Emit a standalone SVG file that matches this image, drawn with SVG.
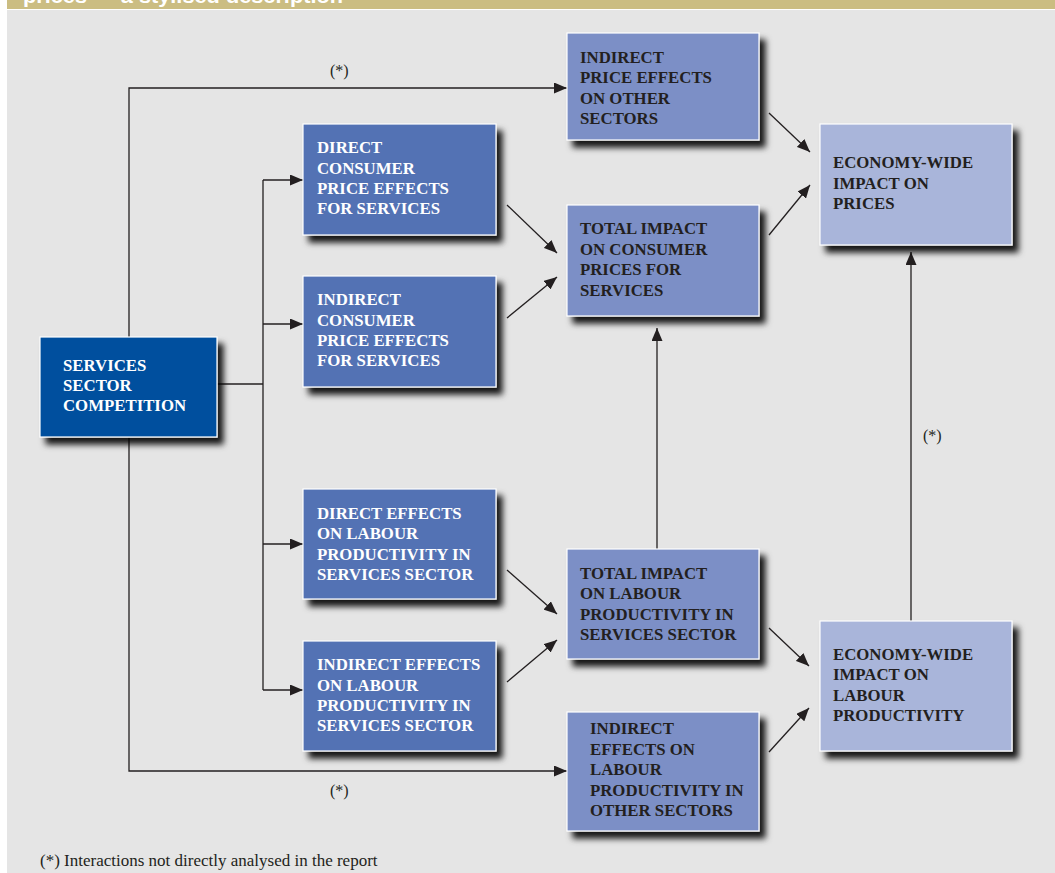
<svg xmlns="http://www.w3.org/2000/svg" width="1055" height="873" viewBox="0 0 1055 873">
<defs>
<style>
.n text{font-family:"Liberation Serif","Times New Roman",serif;font-weight:bold;font-size:16.8px}
.d rect{fill:#00509e}
.m rect{fill:#5272b4}
.l rect{fill:#7b8fc6}
.p rect{fill:#a9b5da}
.n rect{stroke:#ffffff;stroke-width:1.2;filter:url(#sh)}
.d text,.m text{fill:#ffffff}
.l text,.p text{fill:#231f20}
.c line,.c polyline{stroke:#231f20;stroke-width:1.3;fill:none}
.c .a{marker-end:url(#ah)}
.lab{font-family:"Liberation Serif","Times New Roman",serif;font-size:16px;fill:#231f20}
</style>
<filter id="sh" x="-10%" y="-10%" width="130%" height="130%">
<feDropShadow dx="6" dy="7" stdDeviation="3" flood-color="#000" flood-opacity="0.9"/>
</filter>
<marker id="ah" viewBox="0 0 13 11" refX="13" refY="5.5" markerWidth="13" markerHeight="11" markerUnits="userSpaceOnUse" orient="auto">
<path d="M0,0 L13,5.5 L0,11 z" fill="#231f20"/>
</marker>
<clipPath id="hc"><rect x="7" y="0" width="1048" height="9"/></clipPath>
</defs>
<rect x="0" y="0" width="1055" height="873" fill="#ffffff"/>
<rect x="7" y="10" width="1048" height="863" fill="#e5e5e5"/>
<rect x="7" y="0" width="1048" height="9" fill="#cbbd82"/>
<text x="23" y="2.5" clip-path="url(#hc)" font-family="'Liberation Sans',Arial,sans-serif" font-weight="bold" font-size="20" fill="#ffffff" textLength="320" lengthAdjust="spacingAndGlyphs">prices — a stylised description</text>

<g class="c" id="connectors">
<polyline class="a" points="129,337 129,88 567,88"/>
<polyline class="a" points="129,437 129,771 567,771"/>
<line x1="217" y1="384" x2="263" y2="384"/>
<line x1="263" y1="180" x2="263" y2="690"/>
<line class="a" x1="263" y1="180" x2="303" y2="180"/>
<line class="a" x1="263" y1="324" x2="303" y2="324"/>
<line class="a" x1="263" y1="544" x2="303" y2="544"/>
<line class="a" x1="263" y1="690" x2="303" y2="690"/>
<line class="a" x1="507" y1="205" x2="557" y2="253"/>
<line class="a" x1="507" y1="318" x2="557" y2="277"/>
<line class="a" x1="507" y1="570" x2="557" y2="614"/>
<line class="a" x1="507" y1="682" x2="557" y2="640"/>
<line class="a" x1="769" y1="113" x2="810" y2="152"/>
<line class="a" x1="769" y1="235" x2="810" y2="185"/>
<line class="a" x1="769" y1="628" x2="809" y2="666"/>
<line class="a" x1="769" y1="752" x2="809" y2="708"/>
<line class="a" x1="657" y1="549" x2="657" y2="328"/>
<line class="a" x1="911" y1="621" x2="911" y2="252"/>
<text class="lab" x="330" y="76">(*)</text>
<text class="lab" x="330" y="796">(*)</text>
<text class="lab" x="923" y="441">(*)</text>
</g>

<g class="n d" id="services-sector-competition">
<rect x="40" y="337" width="177" height="100"/>
<text x="63" y="371">SERVICES</text>
<text x="63" y="391">SECTOR</text>
<text x="63" y="411">COMPETITION</text>
</g>
<g class="n m" id="direct-consumer-price">
<rect x="303" y="124" width="193" height="111"/>
<text x="317" y="153">DIRECT</text>
<text x="317" y="174">CONSUMER</text>
<text x="317" y="194">PRICE EFFECTS</text>
<text x="317" y="214">FOR SERVICES</text>
</g>
<g class="n m" id="indirect-consumer-price">
<rect x="303" y="276" width="193" height="111"/>
<text x="317" y="305">INDIRECT</text>
<text x="317" y="326">CONSUMER</text>
<text x="317" y="346">PRICE EFFECTS</text>
<text x="317" y="366">FOR SERVICES</text>
</g>
<g class="n m" id="direct-labour">
<rect x="303" y="489" width="193" height="110"/>
<text x="317" y="519">DIRECT EFFECTS</text>
<text x="317" y="539">ON LABOUR</text>
<text x="317" y="560">PRODUCTIVITY IN</text>
<text x="317" y="580">SERVICES SECTOR</text>
</g>
<g class="n m" id="indirect-labour">
<rect x="303" y="641" width="193" height="110"/>
<text x="317" y="670">INDIRECT EFFECTS</text>
<text x="317" y="691">ON LABOUR</text>
<text x="317" y="711">PRODUCTIVITY IN</text>
<text x="317" y="731">SERVICES SECTOR</text>
</g>
<g class="n l" id="indirect-price-other">
<rect x="567" y="33" width="192" height="107"/>
<text x="580" y="63">INDIRECT</text>
<text x="580" y="83">PRICE EFFECTS</text>
<text x="580" y="104">ON OTHER</text>
<text x="580" y="124">SECTORS</text>
</g>
<g class="n l" id="total-consumer-prices">
<rect x="567" y="205" width="192" height="111"/>
<text x="580" y="234">TOTAL IMPACT</text>
<text x="580" y="255">ON CONSUMER</text>
<text x="580" y="275">PRICES FOR</text>
<text x="580" y="296">SERVICES</text>
</g>
<g class="n l" id="total-labour">
<rect x="567" y="549" width="192" height="110"/>
<text x="580" y="579">TOTAL IMPACT</text>
<text x="580" y="599">ON LABOUR</text>
<text x="580" y="620">PRODUCTIVITY IN</text>
<text x="580" y="640">SERVICES SECTOR</text>
</g>
<g class="n l" id="indirect-labour-other">
<rect x="567" y="712" width="192" height="119"/>
<text x="590" y="734">INDIRECT</text>
<text x="590" y="755">EFFECTS ON</text>
<text x="590" y="775">LABOUR</text>
<text x="590" y="796">PRODUCTIVITY IN</text>
<text x="590" y="816">OTHER SECTORS</text>
</g>
<g class="n p" id="economy-prices">
<rect x="820" y="124" width="192" height="121"/>
<text x="833" y="168">ECONOMY-WIDE</text>
<text x="833" y="189">IMPACT ON</text>
<text x="833" y="209">PRICES</text>
</g>
<g class="n p" id="economy-labour">
<rect x="820" y="621" width="192" height="130"/>
<text x="833" y="660">ECONOMY-WIDE</text>
<text x="833" y="680">IMPACT ON</text>
<text x="833" y="701">LABOUR</text>
<text x="833" y="721">PRODUCTIVITY</text>
</g>

<text class="lab" x="40" y="866" style="font-size:17px">(*) Interactions not directly analysed in the report</text>
</svg>
